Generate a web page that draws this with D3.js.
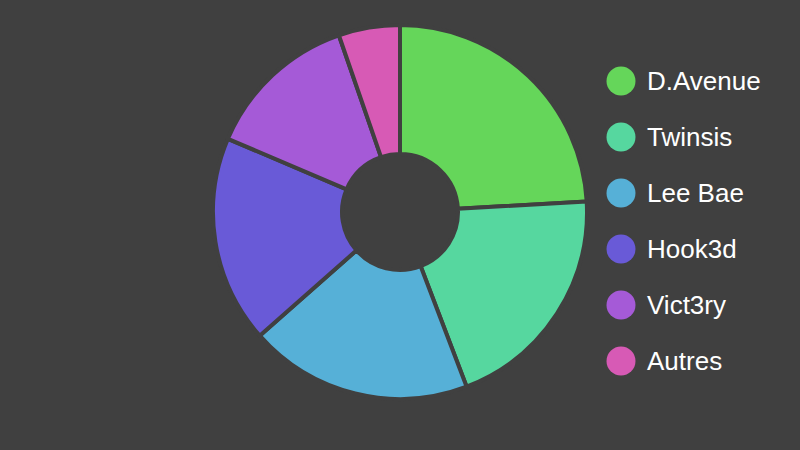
<!DOCTYPE html>
<html><head><meta charset="utf-8">
<script src="https://cdn.jsdelivr.net/npm/d3@7"></script>
<style>html,body{margin:0;padding:0;background:#404040;}svg{display:block;}</style>
</head><body>
<svg id="chart" width="800" height="450"></svg>
<script>
const categories = ["D.Avenue", "Twinsis", "Lee Bae", "Hook3d", "Vict3ry", "Autres"];
const values = [24.1, 20.1, 19.3, 17.9, 13.3, 5.3];
const colors = ["#65d65a", "#56d79f", "#56b0d7", "#695ad7", "#a55ad7", "#d75ab5"];

const svg = d3.select("#chart");
svg.append("rect").attr("width", 800).attr("height", 450).attr("fill", "#404040");

const data = categories.map((c, i) => ({ name: c, value: values[i] }));
const pie = d3.pie().value(d => d.value).sort(null);
const arc = d3.arc().innerRadius(58).outerRadius(187);
const color = d3.scaleOrdinal().domain(categories).range(colors);

const g = svg.append("g").attr("transform", "translate(400,212)");
g.selectAll("path").data(pie(data)).join("path")
  .attr("d", arc)
  .attr("fill", d => color(d.data.name))
  .attr("stroke", "#404040")
  .attr("stroke-width", 4)
  .attr("stroke-linejoin", "round");

const y = d3.scalePoint().domain(categories).range([81, 361]);
const legend = svg.append("g");
const items = legend.selectAll("g").data(categories).join("g")
  .attr("transform", d => `translate(621,${y(d)})`);
items.append("circle").attr("r", 14.5).attr("fill", d => color(d));
items.append("text").attr("x", 26).attr("y", 0).attr("dy", "0.35em")
  .attr("fill", "#ffffff")
  .attr("font-family", "'Liberation Sans', Arial, sans-serif")
  .attr("font-size", 26)
  .text(d => d);
</script>
</body></html>
